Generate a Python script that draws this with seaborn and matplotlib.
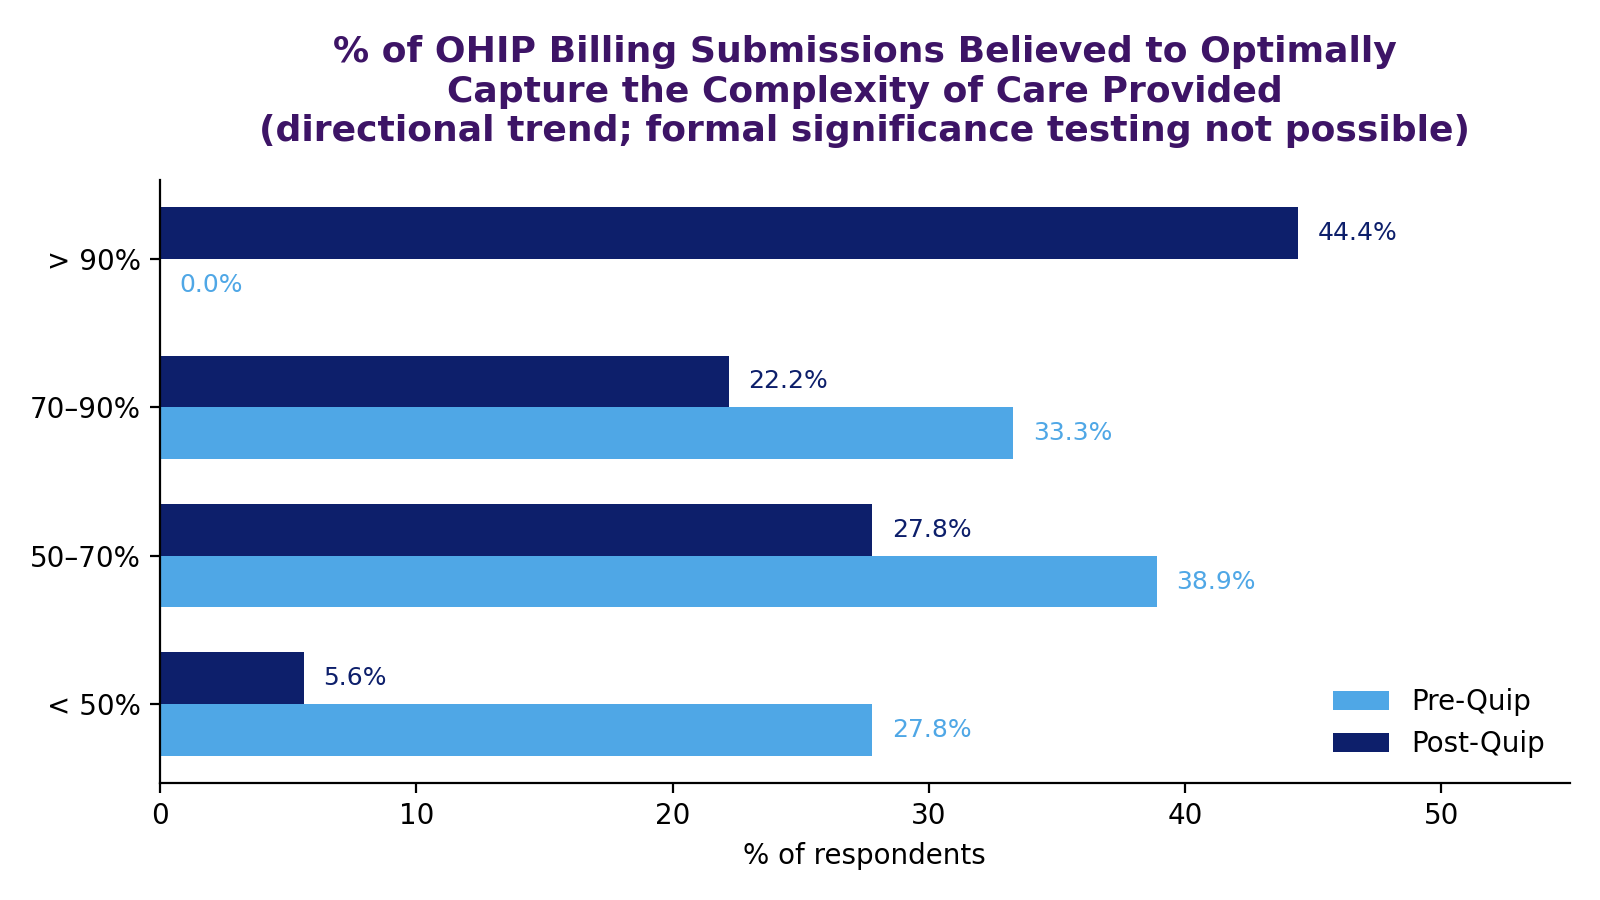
import matplotlib
matplotlib.use("Agg")
import matplotlib.pyplot as plt
import seaborn as sns
import pandas as pd

categories = ['> 90%', '70–90%', '50–70%', '< 50%']
pre_quip = [0.0, 33.3, 38.9, 27.8]
post_quip = [44.4, 22.2, 27.8, 5.6]
groups = ['Post-Quip', 'Pre-Quip']

PRE = '#4fa7e6'
POST = '#0d1f6b'

df = pd.DataFrame({
    'category': categories * 2,
    'value': post_quip + pre_quip,
    'group': ['Post-Quip'] * len(categories) + ['Pre-Quip'] * len(categories),
})

fig, ax = plt.subplots(figsize=(8, 4.5), dpi=200)
sns.barplot(data=df, y='category', x='value', hue='group',
            order=categories, hue_order=groups,
            palette={'Pre-Quip': PRE, 'Post-Quip': POST},
            width=0.7, saturation=1, orient='h', ax=ax)

for cont, col in zip(ax.containers, [POST, PRE]):
    ax.bar_label(cont, labels=[f'{v:.1f}%' for v in cont.datavalues],
                 padding=7, color=col, fontsize=9)

# use matplotlib's usual 5% margins on y instead of seaborn's fixed limits
ax.set_autoscaley_on(True)
ax.margins(y=0.05)
ax.relim()
ax.autoscale_view(scalex=False)
if not ax.yaxis_inverted():
    ax.invert_yaxis()

ax.set_xlim(0, 55)
ax.set_ylabel('')
ax.set_xlabel('% of respondents', fontsize=10)
ax.tick_params(labelsize=10)
ax.set_title('% of OHIP Billing Submissions Believed to Optimally\n'
             'Capture the Complexity of Care Provided\n'
             '(directional trend; formal significance testing not possible)',
             fontsize=13, fontweight='bold', color='#3d1466', pad=14)

h, l = ax.get_legend_handles_labels()
ax.legend(h[::-1], l[::-1], loc='lower right', frameon=False, fontsize=10)
sns.despine(ax=ax)

fig.subplots_adjust(left=0.1, right=0.981, top=0.8, bottom=0.13)
fig.savefig('out.png', dpi=200)
